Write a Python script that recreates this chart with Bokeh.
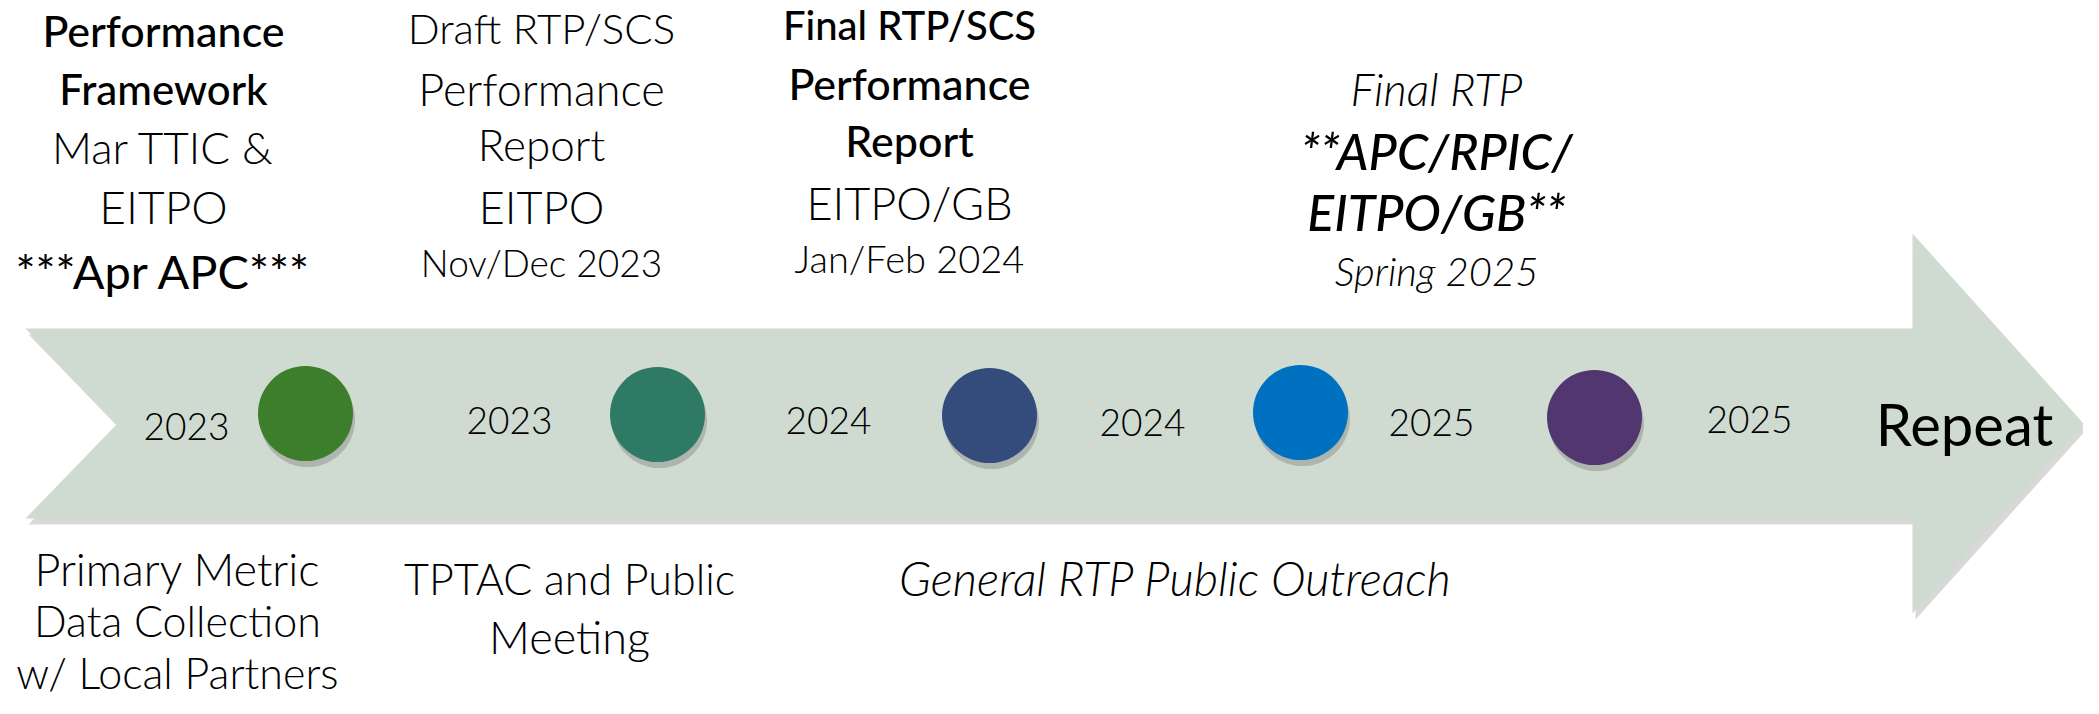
from bokeh.plotting import figure
from bokeh.models import Range1d
from bokeh.embed import file_html
from bokeh.resources import INLINE
from bokeh.core.properties import value

LIGHT = "Lato Light"
MEDIUM = "Lato Medium"

# ---------------- data (texts / categories) ----------------
years = ["2023", "2023", "2024", "2024", "2025", "2025"]
milestone_colors = ["#3D7E2C", "#2F7A64", "#334C7B", "#0070C0", "#52366F"]
end_label = "Repeat"

top_col1 = ["Performance", "Framework", "Mar TTIC &", "EITPO", "***Apr APC***"]
top_col2 = ["Draft RTP/SCS", "Performance", "Report", "EITPO", "Nov/Dec 2023"]
top_col3 = ["Final RTP/SCS", "Performance", "Report", "EITPO/GB", "Jan/Feb 2024"]
top_col4 = ["Final RTP", "**APC/RPIC/", "EITPO/GB**", "Spring 2025"]
bottom_col1 = ["Primary Metric", "Data Collection", "w/ Local Partners"]
bottom_col2 = ["TPTAC and Public", "Meeting"]
bottom_col3 = ["General RTP Public Outreach"]

# ---------------- layout (coordinates in page pixels) ----------------
W, H = 2083, 698
p = figure(width=W, height=H, x_range=Range1d(0, W), y_range=Range1d(H, 0),
           output_backend="svg", toolbar_location=None, min_border=0,
           x_axis_location=None, y_axis_location=None)
p.grid.visible = False
p.outline_line_color = None
p.background_fill_color = "white"
p.border_fill_color = "white"

arrow_x = [25, 1912, 1912, 2083, 1912, 1912, 25, 117]
arrow_y = [328, 328, 233, 423, 613, 518, 518, 423]

# shadow of the arrow
p.patch([x + 3 for x in arrow_x], [y + 6 for y in arrow_y],
        fill_color="#8f8f8f", fill_alpha=0.35, line_color=None)
p.patch(arrow_x, arrow_y, fill_color="#CFDAD0", line_color=None)

circle_x = [305, 657, 989, 1300, 1594]
circle_y = [413, 414, 415, 412, 417]
D = 95
p.ellipse(x=[c + 2 for c in circle_x], y=[c + 6 for c in circle_y], width=D, height=D,
          fill_color="#6f6f6f", fill_alpha=0.35, line_color=None)
p.ellipse(x=circle_x, y=circle_y, width=D, height=D,
          fill_color=milestone_colors, line_color=None)


def draw_lines(lines, xs, ys, specs):
    if not isinstance(xs, list):
        xs = [xs] * len(lines)
    for t, x, y, (font, style, size) in zip(lines, xs, ys, specs):
        p.text(x=[x], y=[y], text=[t], text_font=value(font), text_font_size=f"{size}px",
               text_font_style=style, text_align="center", text_baseline="middle",
               text_color="black")


year_x = [186, 509, 828, 1142, 1431, 1749]
year_y = [426, 420, 420, 422, 422, 419]
draw_lines(years, year_x, year_y, [(LIGHT, "normal", 37)] * 6)
draw_lines([end_label], 1964, [423], [("Lato", "normal", 58)])

draw_lines(top_col1, 163, [30, 88, 146, 206, 270],
           [(MEDIUM, "normal", 43), (MEDIUM, "normal", 42), (LIGHT, "normal", 44),
            (LIGHT, "normal", 46), ("Lato", "normal", 47)])
draw_lines(top_col2, 541, [27, 88, 143, 206, 262],
           [(LIGHT, "normal", 42), (LIGHT, "normal", 45), (LIGHT, "normal", 44),
            (LIGHT, "normal", 45), (LIGHT, "normal", 37)])
draw_lines(top_col3, 909, [24, 83, 140, 202, 257],
           [(MEDIUM, "normal", 40), (MEDIUM, "normal", 43), (MEDIUM, "normal", 43),
            (LIGHT, "normal", 45), (LIGHT, "normal", 38)])
draw_lines(top_col4, 1436, [88, 150, 211, 270],
           [(LIGHT, "italic", 45), (MEDIUM, "italic", 50), (MEDIUM, "italic", 50),
            (LIGHT, "italic", 40)])

draw_lines(bottom_col1, 177, [568, 620, 672],
           [(LIGHT, "normal", 45), (LIGHT, "normal", 43), (LIGHT, "normal", 43)])
draw_lines(bottom_col2, 569, [578, 636], [(LIGHT, "normal", 43), (LIGHT, "normal", 45)])
draw_lines(bottom_col3, 1175, [577], [(LIGHT, "italic", 47)])

open("out.html", "w").write(file_html(p, INLINE))
